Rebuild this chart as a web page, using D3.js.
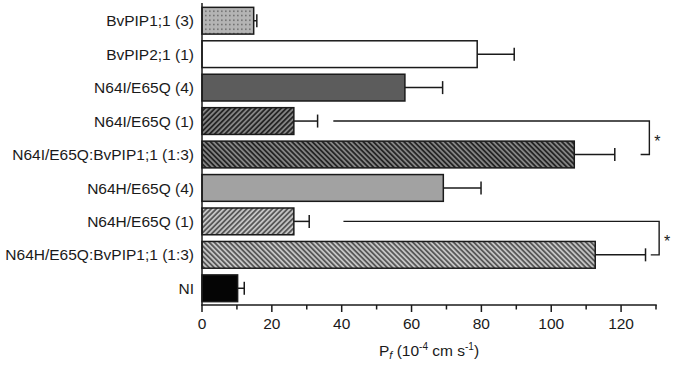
<!DOCTYPE html>
<html>
<head>
<meta charset="utf-8">
<script src="https://cdn.jsdelivr.net/npm/d3@7"></script>
<style>
  html, body { margin: 0; padding: 0; background: #fff; }
  svg { display: block; font-family: "Liberation Sans", Arial, sans-serif; }
</style>
</head>
<body>
<svg id="chart" width="675" height="371"></svg>
<script>
// ---- data ----
const categories = [
  "BvPIP1;1 (3)",
  "BvPIP2;1 (1)",
  "N64I/E65Q (4)",
  "N64I/E65Q (1)",
  "N64I/E65Q:BvPIP1;1 (1:3)",
  "N64H/E65Q (4)",
  "N64H/E65Q (1)",
  "N64H/E65Q:BvPIP1;1 (1:3)",
  "NI"
];
const means  = [14.8, 78.8, 58.1, 26.3, 106.6, 69.1, 26.3, 112.6, 10.2];
const errors = [0.9, 10.6, 10.8, 6.8, 11.6, 10.8, 4.4, 14.4, 1.9];
const fills  = ["dots", "white", "darkSolid", "darkFwd", "darkBack", "lightSolid", "lightFwd", "lightBack", "black"];
const xTickValues = [0, 20, 40, 60, 80, 100, 120];
const xMinorTicks = [10, 30, 50, 70, 90, 110, 130];
// significance brackets: [upper category, lower category, line start value, right value, lower tick start value]
const brackets = [
  ["N64I/E65Q (1)", "N64I/E65Q:BvPIP1;1 (1:3)", 37.6, 128.1, 125.6],
  ["N64H/E65Q (1)", "N64H/E65Q:BvPIP1;1 (1:3)", 40.5, 130.9, 128.5]
];

// ---- layout ----
const svg = d3.select("#chart");
const x = d3.scaleLinear().domain([0, 130]).range([202, 656]);
const y = d3.scaleBand().domain(categories).range([4, 305]).paddingInner(0.2).paddingOuter(0.1);
const ink = "#1a1a1a";

// ---- patterns ----
const defs = svg.append("defs");
function stripes(id, base, line, w, angle) {
  const p = defs.append("pattern").attr("id", id).attr("patternUnits", "userSpaceOnUse")
    .attr("width", 3.6).attr("height", 3.6).attr("patternTransform", `rotate(${angle})`);
  p.append("rect").attr("width", 3.6).attr("height", 3.6).attr("fill", base);
  p.append("line").attr("x1", 1.8).attr("x2", 1.8).attr("y1", 0).attr("y2", 3.6)
    .attr("stroke", line).attr("stroke-width", w);
}
stripes("darkFwd", "#8a8a8a", "#262626", 1.9, 45);
stripes("darkBack", "#8a8a8a", "#262626", 1.9, -45);
stripes("lightFwd", "#c4c4c4", "#3a3a3a", 1.4, 45);
stripes("lightBack", "#c4c4c4", "#3a3a3a", 1.4, -45);
const dp = defs.append("pattern").attr("id", "dots").attr("patternUnits", "userSpaceOnUse")
  .attr("width", 4).attr("height", 4.5);
dp.append("rect").attr("width", 4).attr("height", 4.5).attr("fill", "#b4b4b4");
dp.append("rect").attr("x", 1.2).attr("y", 1.5).attr("width", 1.3).attr("height", 1.3).attr("fill", "#505050");

const fillMap = {
  dots: "url(#dots)", white: "#ffffff", darkSolid: "#5c5c5c",
  darkFwd: "url(#darkFwd)", darkBack: "url(#darkBack)",
  lightSolid: "#a2a2a2", lightFwd: "url(#lightFwd)", lightBack: "url(#lightBack)",
  black: "#050505"
};

// ---- bars ----
const data = categories.map((c, i) => ({ c, m: means[i], e: errors[i], f: fills[i] }));
svg.append("g").selectAll("rect").data(data).join("rect")
  .attr("x", x(0))
  .attr("y", d => y(d.c))
  .attr("width", d => x(d.m) - x(0))
  .attr("height", y.bandwidth())
  .attr("fill", d => fillMap[d.f])
  .attr("stroke", ink).attr("stroke-width", 1.5);

// ---- error bars ----
const eg = svg.append("g").attr("stroke", ink).attr("stroke-width", 1.5);
data.forEach(d => {
  const cy = y(d.c) + y.bandwidth() / 2;
  eg.append("line").attr("x1", x(d.m)).attr("x2", x(d.m + d.e)).attr("y1", cy).attr("y2", cy);
  eg.append("line").attr("x1", x(d.m + d.e)).attr("x2", x(d.m + d.e)).attr("y1", cy - 6.5).attr("y2", cy + 6.5);
});

// ---- brackets ----
const bg = svg.append("g");
brackets.forEach(b => {
  const y1 = y(b[0]) + y.bandwidth() / 2;
  const y2 = y(b[1]) + y.bandwidth() / 2;
  bg.append("path")
    .attr("d", `M${x(b[2])},${y1}H${x(b[3])}V${y2}H${x(b[4])}`)
    .attr("fill", "none").attr("stroke", ink).attr("stroke-width", 1.4);
  bg.append("text").attr("x", x(b[3]) + 8).attr("y", (y1 + y2) / 2 + 9)
    .attr("text-anchor", "middle").attr("font-size", 16).attr("fill", ink).text("*");
});

// ---- axes ----
const ax = svg.append("g").attr("stroke", ink).attr("stroke-width", 1.5);
ax.append("line").attr("x1", x(0)).attr("x2", x(0)).attr("y1", 3).attr("y2", 305.5);
ax.append("line").attr("x1", x(0) - 0.75).attr("x2", x(130) + 0.75).attr("y1", 305).attr("y2", 305);
xTickValues.forEach(v => ax.append("line").attr("x1", x(v)).attr("x2", x(v)).attr("y1", 305).attr("y2", 312));
xMinorTicks.forEach(v => ax.append("line").attr("x1", x(v)).attr("x2", x(v)).attr("y1", 305).attr("y2", 309.5));

svg.append("g").selectAll("text").data(xTickValues).join("text")
  .attr("x", d => x(d)).attr("y", 328.5)
  .attr("text-anchor", "middle").attr("font-size", 15.5).attr("fill", ink)
  .text(d => d);

svg.append("g").selectAll("text").data(categories).join("text")
  .attr("x", 194).attr("y", d => y(d) + y.bandwidth() / 2)
  .attr("dy", "0.36em")
  .attr("text-anchor", "end").attr("font-size", 15.5).attr("fill", ink)
  .text(d => d);

// axis title
const t = svg.append("text").attr("x", (x(0) + x(130)) / 2).attr("y", 356)
  .attr("text-anchor", "middle").attr("font-size", 15.5).attr("fill", ink);
t.append("tspan").text("P");
t.append("tspan").attr("font-size", 11).attr("font-style", "italic").attr("dy", 3).text("f");
t.append("tspan").attr("dy", -3).text(" (10");
t.append("tspan").attr("font-size", 10).attr("dy", -6).text("-4");
t.append("tspan").attr("dy", 6).text(" cm s");
t.append("tspan").attr("font-size", 10).attr("dy", -6).text("-1");
t.append("tspan").attr("dy", 6).text(")");
</script>
</body>
</html>
